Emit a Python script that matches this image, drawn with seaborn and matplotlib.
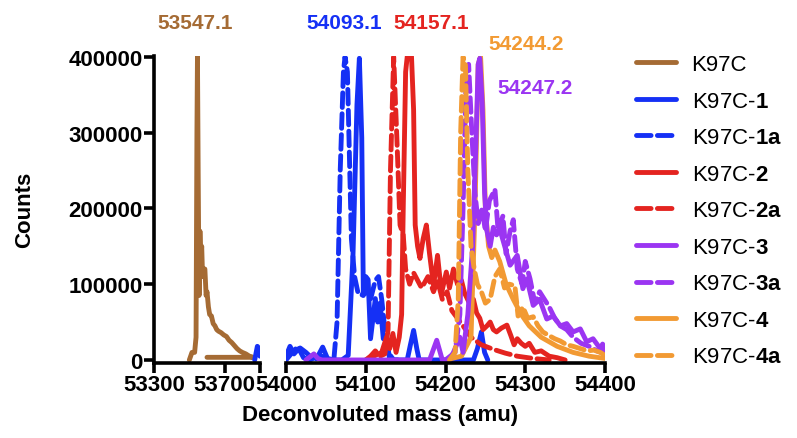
import matplotlib
matplotlib.use("Agg")
import matplotlib.pyplot as plt
from matplotlib.ticker import StrMethodFormatter
import pandas as pd
import seaborn as sns

# deconvoluted mass spectra (mass in amu, counts)
k97c_mass = [53500, 53515, 53530, 53538, 53543, 53546, 53550, 53555, 53560, 53565, 53570, 53575,
             53580, 53588, 53595, 53600, 53608, 53615, 53625, 53635, 53645, 53655, 53665, 53680,
             53695, 53710, 53725, 53740, 53755, 53770, 53785, 53800, 53820, 53840, 53860, 53600]
k97c_counts = [0, 10000, 10000, 30000, 300000, 400000, 250000, 85000, 170000, 130000, 150000, 110000,
               118000, 120000, 85000, 90000, 70000, 60000, 58000, 48000, 45000, 40000, 38000, 36000,
               33000, 31000, 26000, 23000, 19000, 15000, 12000, 10000, 8000, 5000, 3500, 3500]

k1_mass = [53870, 53885, 53895, 53900, 54000, 54005, 54010, 54016, 54022, 54030, 54040, 54046,
           54052, 54060, 54070, 54078, 54084, 54089, 54092, 54095, 54097, 54100, 54103, 54106,
           54112, 54115, 54118, 54122, 54126, 54130, 54152, 54156, 54160, 54164, 54167, 54235,
           54240, 54245, 54249, 54253]
k1_counts = [0, 18000, 15000, 5000, 5000, 18000, 8000, 15000, 3000, 0, 5000, 17000,
             2000, 0, 0, 6000, 138000, 337000, 398000, 293000, 85000, 110000, 106000, 28000,
             81000, 50000, 75000, 28000, 32000, 0, 0, 20000, 39000, 15000, 0, 0,
             15000, 37000, 10000, 0]

k1a_mass = [54000, 54008, 54015, 54025, 54035, 54045, 54055, 54060, 54064, 54068, 54072, 54074,
            54077, 54082, 54086, 54090, 54095, 54100, 54106, 54112, 54116, 54120, 54124, 54128,
            54135, 54140]
k1a_counts = [0, 10000, 18000, 10000, 0, 5000, 0, 0, 50000, 250000, 380000, 400000,
              380000, 160000, 110000, 90000, 85000, 95000, 80000, 105000, 110000, 80000, 40000, 10000,
              0, 0]

k2_mass = [54100, 54110, 54120, 54126, 54130, 54134, 54138, 54142, 54145, 54147, 54150, 54153,
           54157, 54160, 54162, 54165, 54168, 54172, 54176, 54180, 54185, 54190, 54195, 54201,
           54205, 54210, 54215, 54220, 54224, 54230, 54235, 54239, 54243, 54247, 54252, 54256,
           54260, 54264, 54270, 54277, 54282, 54286, 54290, 54295, 54300, 54305, 54312, 54320,
           54330, 54340, 54350]
k2_counts = [0, 5000, 10000, 30000, 15000, 35000, 10000, 30000, 60000, 200000, 380000, 410000,
             410000, 330000, 178000, 150000, 134000, 160000, 178000, 140000, 98000, 138000, 88000, 116000,
             95000, 120000, 100000, 105000, 88000, 75000, 80000, 62000, 55000, 40000, 45000, 50000,
             40000, 37000, 42000, 46000, 32000, 20000, 28000, 22000, 18000, 22000, 10000, 12000,
             5000, 3000, 0]

k2a_mass = [54100, 54106, 54112, 54118, 54124, 54128, 54131, 54135, 54139, 54143, 54147, 54150,
            54155, 54160, 54165, 54170, 54178, 54185, 54190, 54196, 54202, 54208, 54215, 54222,
            54232, 54245, 54260, 54275, 54290, 54310, 54330]
k2a_counts = [0, 5000, 12000, 5000, 8000, 40000, 250000, 400000, 293000, 178000, 165000, 120000,
              100000, 115000, 105000, 95000, 110000, 90000, 105000, 80000, 90000, 65000, 55000, 45000,
              30000, 20000, 14000, 9000, 5000, 2000, 0]

k3_mass = [54025, 54030, 54035, 54040, 54045, 54100, 54180, 54189, 54196, 54205, 54210, 54218,
           54222, 54228, 54234, 54238, 54241, 54243, 54246, 54249, 54252, 54256, 54260, 54264,
           54268, 54281, 54290, 54297, 54302, 54310, 54318, 54327, 54335, 54344, 54352, 54360,
           54369, 54377, 54385, 54394, 54397, 54400]
k3_counts = [0, 4000, 8000, 2000, 0, 0, 0, 26000, 0, 0, 10000, 30000,
             10000, 60000, 150000, 280000, 390000, 398000, 340000, 220000, 170000, 150000, 175000, 165000,
             173000, 125000, 138000, 94000, 107000, 72000, 80000, 54000, 58000, 45000, 48000, 37000,
             41000, 24000, 28000, 15000, 21000, 10000]

k3a_mass = [54200, 54212, 54218, 54222, 54226, 54229, 54233, 54237, 54241, 54246, 54250, 54255,
            54262, 54266, 54272, 54276, 54281, 54285, 54290, 54296, 54300, 54306, 54312, 54318,
            54324, 54330, 54337, 54344, 54352, 54360, 54370, 54380, 54390, 54400]
k3a_counts = [0, 10000, 60000, 200000, 380000, 390000, 300000, 220000, 180000, 200000, 170000, 210000,
              225000, 170000, 190000, 140000, 170000, 185000, 120000, 100000, 130000, 107000, 75000, 90000,
              80000, 70000, 55000, 45000, 40000, 30000, 22000, 18000, 12000, 8000]

k4_mass = [54200, 54220, 54232, 54237, 54241, 54244, 54247, 54250, 54254, 54258, 54262, 54268,
           54276, 54285, 54295, 54305, 54320, 54340, 54360, 54380, 54400]
k4_counts = [0, 5000, 30000, 200000, 390000, 400000, 330000, 200000, 150000, 135000, 145000, 130000,
             100000, 80000, 60000, 45000, 30000, 18000, 10000, 5000, 2000]

k4a_mass = [54205, 54212, 54216, 54219, 54222, 54225, 54228, 54232, 54236, 54240, 54245, 54250,
            54256, 54262, 54268, 54274, 54280, 54287, 54291, 54297, 54303, 54310, 54316, 54322,
            54330, 54337, 54344, 54352, 54360, 54369, 54378, 54386, 54394, 54400]
k4a_counts = [0, 10000, 80000, 300000, 400000, 390000, 250000, 150000, 120000, 100000, 90000, 75000,
              80000, 110000, 120000, 95000, 100000, 98000, 58000, 70000, 55000, 57000, 45000, 37000,
              32000, 28000, 25000, 20000, 18000, 15000, 12000, 13000, 10000, 6000]

series_names = ["K97C", "K97C-1", "K97C-1a", "K97C-2", "K97C-2a",
                "K97C-3", "K97C-3a", "K97C-4", "K97C-4a"]
legend_labels = ["K97C", r"K97C-$\mathbf{1}$", r"K97C-$\mathbf{1a}$", r"K97C-$\mathbf{2}$",
                 r"K97C-$\mathbf{2a}$", r"K97C-$\mathbf{3}$", r"K97C-$\mathbf{3a}$",
                 r"K97C-$\mathbf{4}$", r"K97C-$\mathbf{4a}$"]
series_data = [(k97c_mass, k97c_counts), (k1_mass, k1_counts), (k1a_mass, k1a_counts),
               (k2_mass, k2_counts), (k2a_mass, k2a_counts), (k3_mass, k3_counts),
               (k3a_mass, k3a_counts), (k4_mass, k4_counts), (k4a_mass, k4a_counts)]
# drawing order: orange solid sits under the purple solid peak
draw_order = ["K97C", "K97C-1", "K97C-1a", "K97C-2", "K97C-2a",
              "K97C-4", "K97C-3", "K97C-3a", "K97C-4a"]

peak_labels = ["53547.1", "54093.1", "54157.1", "54244.2", "54247.2"]

brown, blue, red, purple, orange = "#A56B34", "#1530F5", "#E42420", "#9B35F2", "#F29A33"
colors = [brown, blue, blue, red, red, purple, purple, orange, orange]
palette = dict(zip(series_names, colors))
dash = (3.0, 1.3)
dashes = {n: ("" if not n.endswith("a") else dash) for n in series_names}

rows = []
for name, (m, c) in zip(series_names, series_data):
    for mi, ci in zip(m, c):
        rows.append({"series": name, "mass": mi, "counts": ci})
df = pd.DataFrame(rows)

sns.set_style("ticks")
plt.rcParams["font.family"] = ["Liberation Sans", "DejaVu Sans"]
plt.rcParams["mathtext.fontset"] = "custom"
plt.rcParams["mathtext.rm"] = "Liberation Sans"
plt.rcParams["mathtext.bf"] = "Liberation Sans:bold"
for key in ["text.color", "axes.labelcolor", "xtick.color", "ytick.color", "axes.edgecolor"]:
    plt.rcParams[key] = "black"

fig = plt.figure(figsize=(7.97, 4.39), dpi=100)
ax_l = fig.add_axes([154 / 797, 75 / 439, 106 / 797, 307 / 439])
ax_r = fig.add_axes([286 / 797, 75 / 439, 319 / 797, 307 / 439])

for ax in (ax_l, ax_r):
    sns.lineplot(data=df, x="mass", y="counts", hue="series", style="series",
                 hue_order=draw_order, style_order=draw_order,
                 palette=palette, dashes=dashes, sort=False, estimator=None,
                 linewidth=3.5, ax=ax, legend=(ax is ax_r))
    ax.set_ylim(-4000, 401000)
    ax.set_xlabel("")
    ax.set_ylabel("")
    for ln in ax.get_lines():
        ln.set_solid_capstyle("round")
        ln.set_dash_capstyle("round")
        ln.set_solid_joinstyle("round")
    ax.spines["top"].set_visible(False)
    ax.spines["right"].set_visible(False)
    ax.spines["bottom"].set_linewidth(2.6)
    ax.spines["left"].set_linewidth(2.6)
    ax.tick_params(width=2.6, length=7, labelsize=16, pad=1)

ax_l.set_xlim(53300, 53900)
ax_l.set_xticks([53300, 53700, 53900])
ax_l.set_xticklabels(["53300", "53700", ""], fontweight="bold")
ax_l.set_yticks([0, 100000, 200000, 300000, 400000])
ax_l.yaxis.set_major_formatter(StrMethodFormatter("{x:.0f}"))
for t in ax_l.get_yticklabels():
    t.set_fontweight("bold")

ax_r.set_xlim(54000, 54400)
ax_r.set_xticks([54000, 54100, 54200, 54300, 54400])
ax_r.set_xticklabels(["54000", "54100", "54200", "54300", "54400"], fontweight="bold")
ax_r.spines["left"].set_visible(False)
ax_r.set_yticks([])

handles, labels = ax_r.get_legend_handles_labels()
ax_r.get_legend().remove()
by_name = dict(zip(labels, handles))
handles = [by_name[n] for n in series_names]
for h in handles:
    h.set_linewidth(3.5)
fig.legend(handles, legend_labels, loc="upper left", bbox_to_anchor=(636 / 797, 1 - 55 / 439),
           frameon=False, fontsize=16, handlelength=1.8, handletextpad=0.7,
           labelspacing=0.7, borderpad=0, borderaxespad=0)

# peak annotations
ax_l.text(53531, 445000, peak_labels[0], color=brown, fontsize=15, fontweight="bold",
          ha="center", va="center", clip_on=False)
ax_r.text(54073, 445000, peak_labels[1], color=blue, fontsize=15, fontweight="bold",
          ha="center", va="center", clip_on=False)
ax_r.text(54182, 445000, peak_labels[2], color=red, fontsize=15, fontweight="bold",
          ha="center", va="center", clip_on=False)
ax_r.text(54301, 417000, peak_labels[3], color=orange, fontsize=15, fontweight="bold",
          ha="center", va="center", clip_on=False)
ax_r.text(54312, 359000, peak_labels[4], color=purple, fontsize=15, fontweight="bold",
          ha="center", va="center", clip_on=False)

fig.text(25 / 797, 1 - 210 / 439, "Counts", rotation=90, fontsize=16, fontweight="bold",
         ha="center", va="center")
fig.text(380 / 797, 1 - 416 / 439, "Deconvoluted mass (amu)", fontsize=16, fontweight="bold",
         ha="center", va="center")

fig.savefig("out.png", dpi=100)
